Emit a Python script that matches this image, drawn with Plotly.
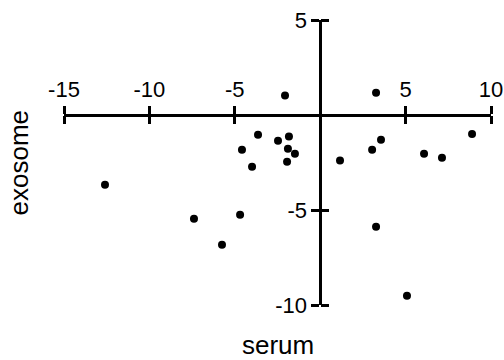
import plotly.graph_objects as go

serum = [-2.06, 3.27, -3.64, -2.47, -1.83, -4.58, -1.89, -1.48, -3.99, -1.94,
         -12.6, 3.56, 3.04, 1.16, 8.89, 6.08, 7.13, -7.39, -4.69, -5.75, 3.27, 5.08]
exosome = [1.02, 1.17, -1.04, -1.35, -1.13, -1.83, -1.77, -2.04, -2.73, -2.46,
           -3.67, -1.30, -1.83, -2.40, -1.00, -2.04, -2.25, -5.46, -5.25, -6.83, -5.88, -9.51]

x_range = [-15, 10]
y_range = [-10, 5]
x_ticks = [-15, -10, -5, 5, 10]
x_labels = ["-15", "-10", "-5", "5", "10"]
y_ticks = [-10, -5, 5]
y_labels = ["-10", "-5", "5"]

FONT = "Liberation Sans, Arial, sans-serif"

fig = go.Figure()
fig.add_trace(go.Scatter(x=serum, y=exosome, mode="markers",
                         marker=dict(color="black", size=8),
                         cliponaxis=False, showlegend=False, hoverinfo="skip"))
fig.add_trace(go.Scatter(x=[], y=[], xaxis="x2", yaxis="y2", mode="markers",
                         showlegend=False, hoverinfo="skip"))

xpos = (0 - y_range[0]) / (y_range[1] - y_range[0])
ypos = (0 - x_range[0]) / (x_range[1] - x_range[0])

common = dict(showgrid=False, zeroline=False, ticks="outside", ticklen=8,
              tickwidth=2.5, tickcolor="black", linecolor="black", linewidth=2.5,
              automargin=False,
              tickfont=dict(family=FONT, size=22, color="black"))

fig.update_layout(
    width=504, height=360,
    margin=dict(l=64, r=13, t=20, b=55),
    plot_bgcolor="white", paper_bgcolor="white",
    xaxis=dict(range=x_range, tickvals=x_ticks, ticktext=x_labels, anchor="free",
               position=xpos, side="top", showline=True, **common),
    xaxis2=dict(range=x_range, tickvals=x_ticks, anchor="free", position=xpos,
                overlaying="x", side="bottom", showline=False, showticklabels=False,
                **common),
    yaxis=dict(range=y_range, tickvals=y_ticks, ticktext=y_labels, anchor="free",
               position=ypos, side="left", showline=True, **common),
    yaxis2=dict(range=y_range, tickvals=y_ticks, anchor="free", position=ypos,
                overlaying="y", side="right", showline=False, showticklabels=False,
                **common),
    annotations=[
        dict(text="serum", xref="paper", yref="paper", x=0.5, y=0, yshift=-40,
             showarrow=False, font=dict(family=FONT, size=26, color="black"),
             yanchor="middle", xanchor="center"),
        dict(text="exosome", xref="paper", yref="paper", x=0, y=0.5, xshift=-46,
             textangle=-90, showarrow=False,
             font=dict(family=FONT, size=26, color="black"),
             yanchor="middle", xanchor="center"),
    ],
)

fig.write_html("out.html", config={"displayModeBar": False},
               post_script="document.body.style.margin='0';")
